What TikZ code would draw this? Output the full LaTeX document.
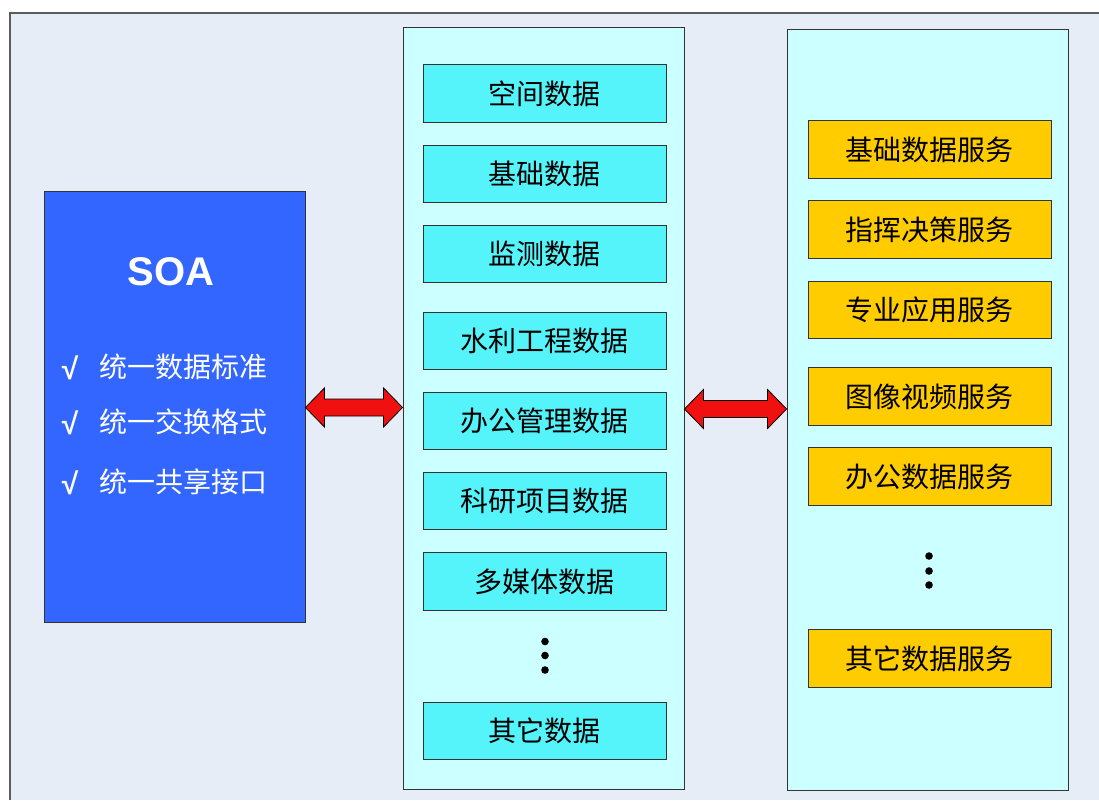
\documentclass[tikz,border=0pt]{standalone}
\usepackage{fontspec}
\setmainfont{Liberation Sans}
\newfontfamily\cjk{Noto Sans CJK SC}
\usetikzlibrary{calc}
\definecolor{bgc}{HTML}{E6EDF7}
\definecolor{panelc}{HTML}{CCFFFF}
\definecolor{soac}{HTML}{3366FF}
\definecolor{datac}{HTML}{55F3FA}
\definecolor{svcc}{HTML}{FFCC00}
\definecolor{arrc}{HTML}{F01010}
\definecolor{edgec}{HTML}{333333}
\tikzset{
  panel/.style={draw=edgec, line width=0.9pt, fill=panelc, minimum width=281pt, inner sep=0pt},
  databox/.style={draw=edgec, line width=0.9pt, fill=datac, minimum width=243pt, minimum height=57.5pt, inner sep=0pt,
     font=\cjk\fontsize{28}{28}\selectfont},
  svcbox/.style={draw=edgec, line width=0.9pt, fill=svcc, minimum width=243pt, minimum height=57.5pt, inner sep=0pt,
     font=\cjk\fontsize{28}{28}\selectfont},
  soatext/.style={text=white, font=\cjk\fontsize{28}{28}\selectfont, anchor=west, inner sep=0pt},
  checkmk/.style={text=white, font=\bfseries\fontsize{30}{30}\selectfont, inner sep=0pt},
  dotmark/.style={fill=black, draw=none},
  redarrow/.style={draw=black, line width=0.8pt, fill=arrc, line join=miter}
}
\newcommand{\dblarrow}[2]{%
  \draw[redarrow] let \p1=(#1), \p2=(#2) in
    (\x1,\y1) -- (\x1+19pt,\y1+19.5pt) -- (\x1+19pt,\y1+8.5pt) -- (\x2-19pt,\y1+8.5pt)
    -- (\x2-19pt,\y1+19.5pt) -- (\x2,\y1) -- (\x2-19pt,\y1-19.5pt) -- (\x2-19pt,\y1-8.5pt)
    -- (\x1+19pt,\y1-8.5pt) -- (\x1+19pt,\y1-19.5pt) -- cycle;}
\begin{document}
\begin{tikzpicture}[x=1pt,y=-1pt]
\useasboundingbox (0,0) rectangle (1099,800);
\fill[white] (0,0) rectangle (1099,800);
\fill[bgc] (10,13) rectangle (1099,800);
\draw[line width=1.5pt, edgec!80] (10,800) -- (10,13) -- (1099,13);

% SOA box
\node[draw=edgec, line width=0.9pt, fill=soac, minimum width=261pt, minimum height=431pt, inner sep=0pt] (soa) at (174.5,406.5) {};
\node[text=white, font=\bfseries\fontsize{40}{40}\selectfont] (soat) at (171,272) {SOA};
\node[checkmk] (k1) at (70,368) {√};
\node[soatext] (c1) at (99,367) {统一数据标准};
\node[checkmk] (k2) at (70,423) {√};
\node[soatext] (c2) at (99,422) {统一交换格式};
\node[checkmk] (k3) at (70,483) {√};
\node[soatext] (c3) at (99,482) {统一共享接口};

% middle panel
\node[panel, minimum height=762pt] (mid) at (543.5,408) {};
\node[databox] (d1) at (544.5,93.5) {空间数据};
\node[databox] (d2) at (544.5,174) {基础数据};
\node[databox] (d3) at (544.5,254) {监测数据};
\node[databox] (d4) at (544.5,341) {水利工程数据};
\node[databox] (d5) at (544.5,421) {办公管理数据};
\node[databox] (d6) at (544.5,501) {科研项目数据};
\node[databox] (d7) at (544.5,581.5) {多媒体数据};
\fill[dotmark] (545,641.5) circle (3.8pt);
\fill[dotmark] (545,655.5) circle (3.8pt);
\fill[dotmark] (545,670) circle (3.8pt);
\node[databox] (d8) at (544.5,731) {其它数据};

% right panel
\node[panel, minimum height=761pt] (svc) at (927.5,409.5) {};
\node[svcbox] (s1) at (929.5,149.5) {基础数据服务};
\node[svcbox] (s2) at (929.5,229.5) {指挥决策服务};
\node[svcbox] (s3) at (929.5,310) {专业应用服务};
\node[svcbox] (s4) at (929.5,396.5) {图像视频服务};
\node[svcbox] (s5) at (929.5,476.5) {办公数据服务};
\fill[dotmark] (929,556) circle (3.8pt);
\fill[dotmark] (929,571) circle (3.8pt);
\fill[dotmark] (929,585) circle (3.8pt);
\node[svcbox] (s6) at (929.5,658.5) {其它数据服务};

% arrows
\coordinate (a1) at ($(soa.east)+(0,1)$);
\coordinate (a2) at (mid.west |- a1);
\dblarrow{a1}{a2}
\coordinate (b1) at ($(mid.east)+(0,1)$);
\coordinate (b2) at (svc.west |- b1);
\dblarrow{b1}{b2}
\end{tikzpicture}
\end{document}
